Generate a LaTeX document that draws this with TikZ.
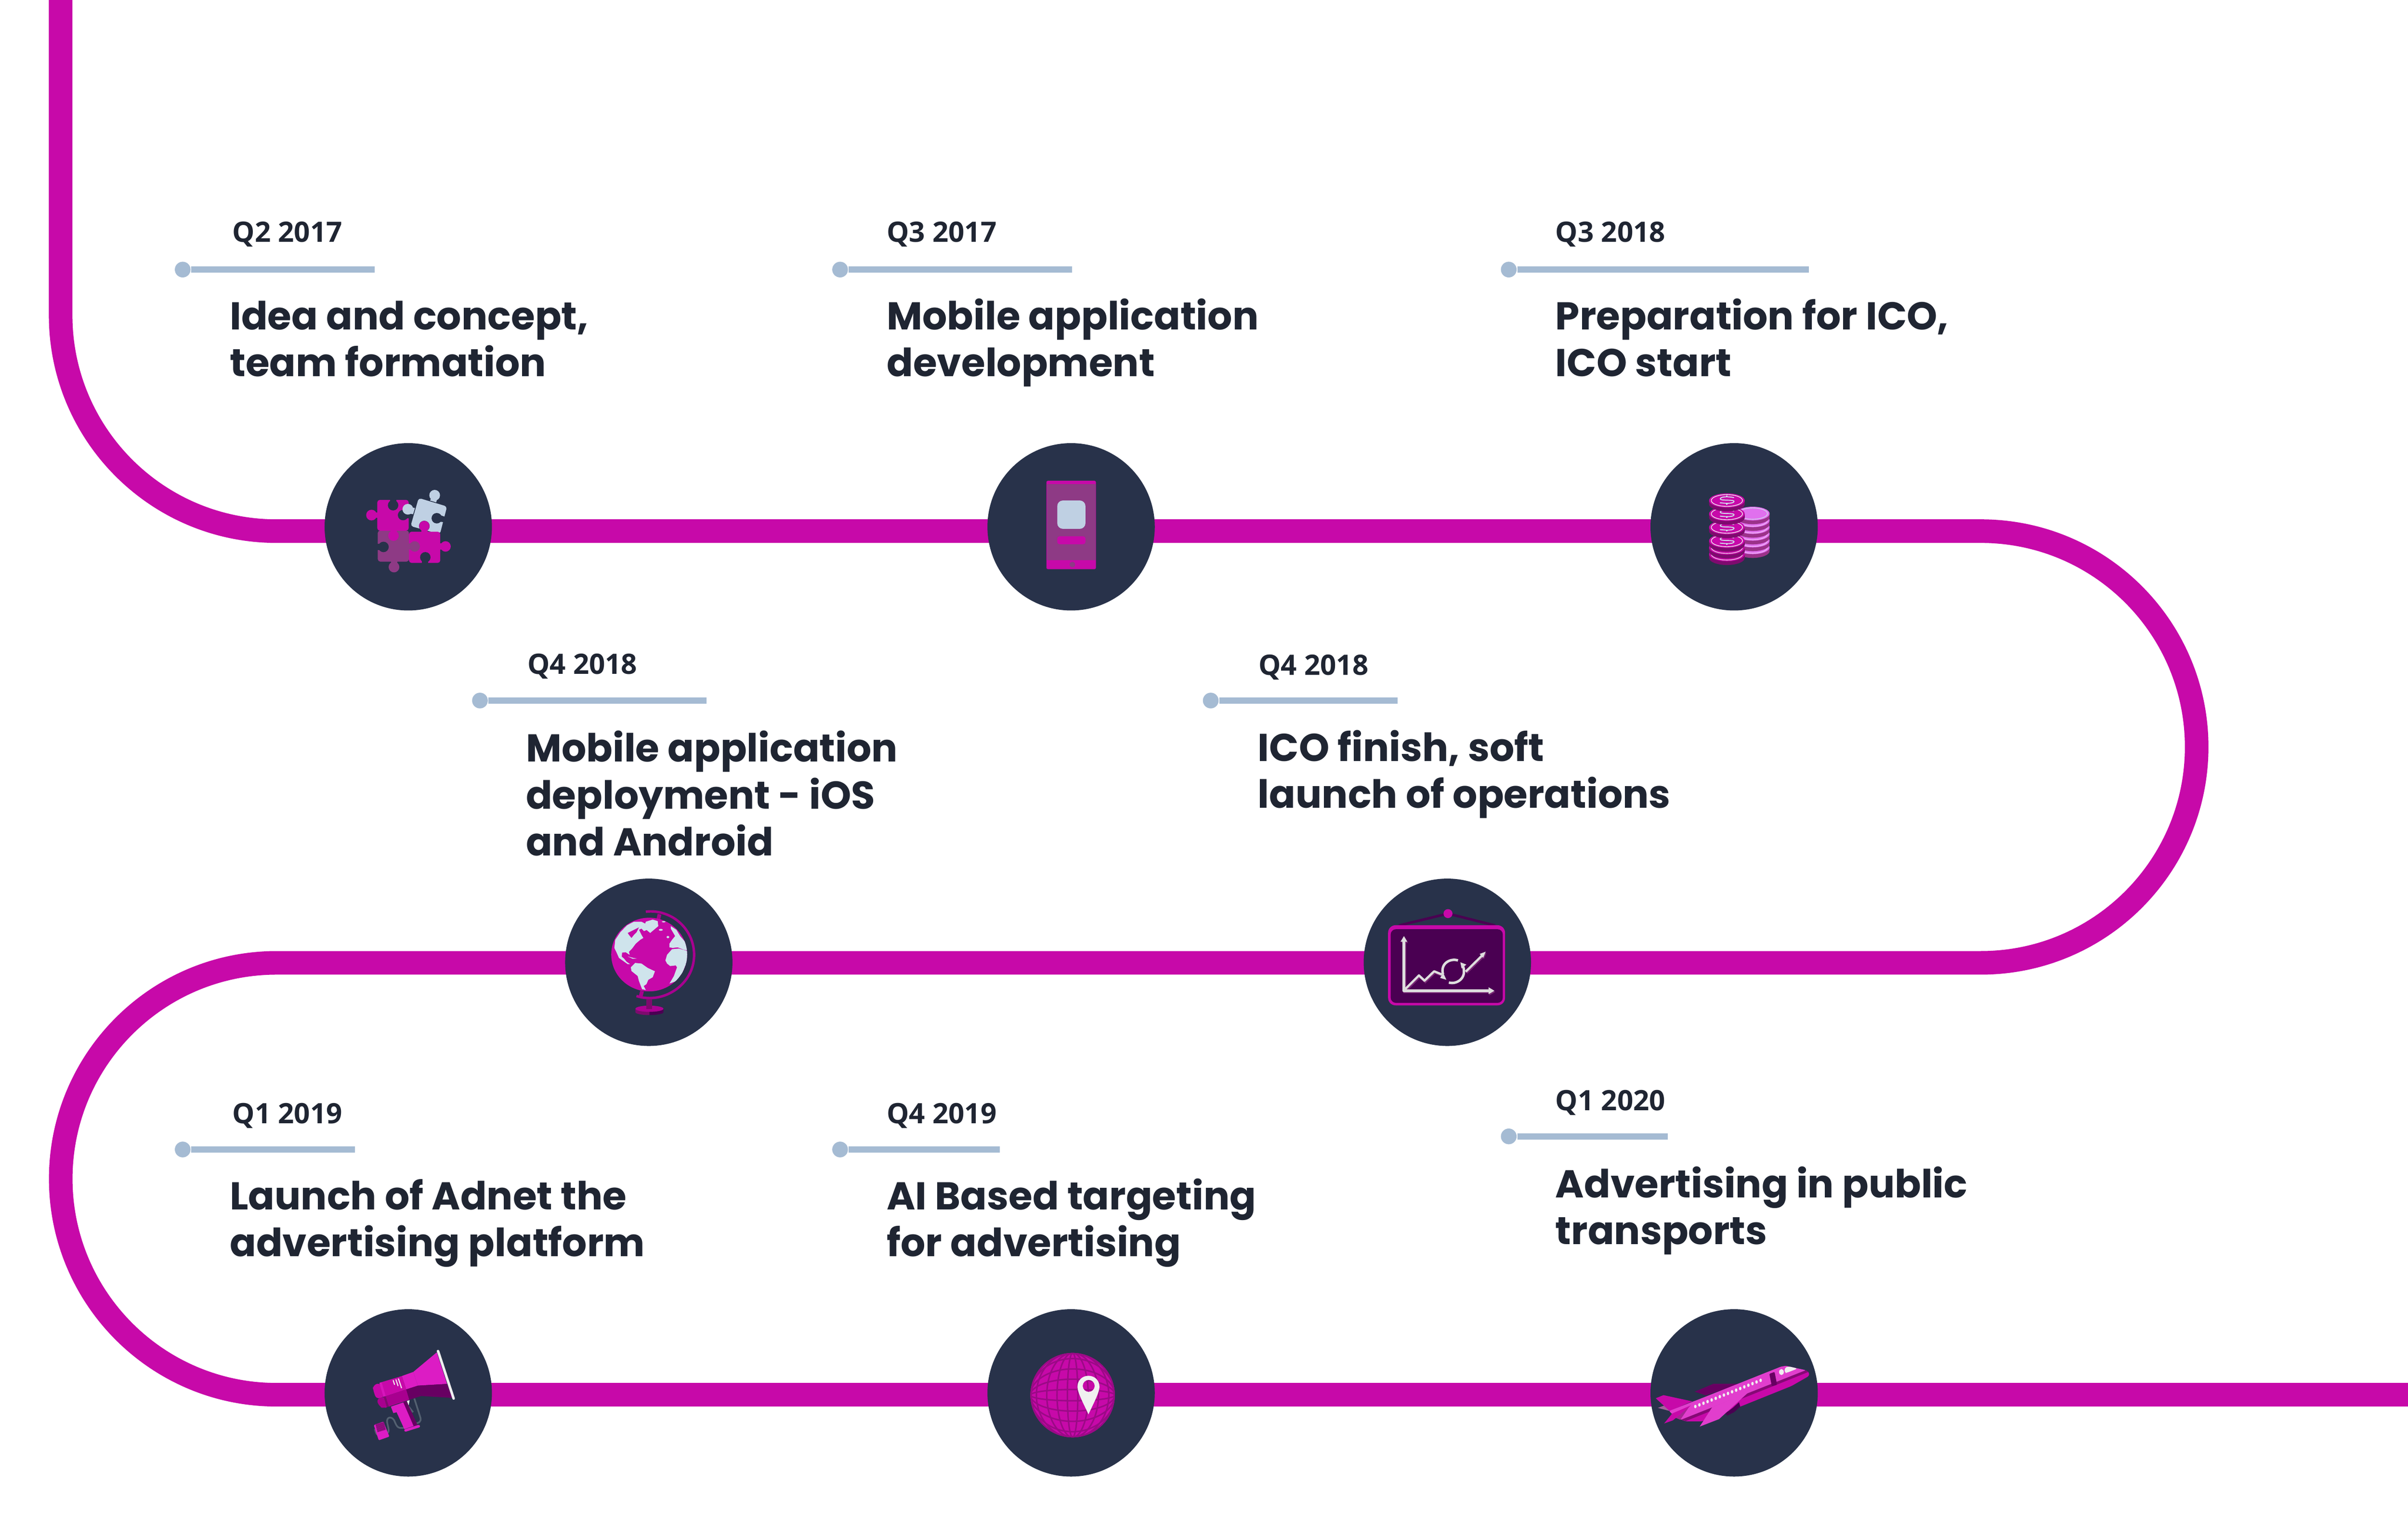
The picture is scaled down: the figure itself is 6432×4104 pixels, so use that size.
\documentclass[tikz,border=0pt]{standalone}
\usepackage{fontspec}
\usetikzlibrary{backgrounds}
\newfontfamily\datef{Open Sans}
\newfontfamily\titlef{Poppins}
\definecolor{navy}{HTML}{28324A}
\definecolor{road}{HTML}{C709A9}
\definecolor{leadc}{HTML}{A5BBD3}
\definecolor{inkc}{HTML}{1F2532}
\definecolor{paleb}{HTML}{BFD0E3}
\definecolor{dimp}{HTML}{8E3A85}
\definecolor{landc}{HTML}{CFE4EC}
\definecolor{bright}{HTML}{DC1CC4}
\definecolor{darkm}{HTML}{7E0B6E}
\definecolor{deepm}{HTML}{680062}
\definecolor{midm}{HTML}{A8008F}
\definecolor{pinkc}{HTML}{E070EE}
\definecolor{sidep}{HTML}{9B3289}
\definecolor{boardc}{HTML}{4A0052}
\definecolor{chalk}{HTML}{DEDEDE}
\definecolor{whitec}{HTML}{F0F0F0}
\definecolor{wirec}{HTML}{536070}
\tikzset{
  x=0.1pt,y=-0.1pt,
  stop/.style={circle,inner sep=0pt,minimum size=44.7pt,fill=navy},
  roadline/.style={draw=road,line width=6.3pt,line join=round},
  leader/.style={draw=leadc,line width=1.7pt},
  dotc/.style={circle,inner sep=0pt,minimum size=4.2pt,fill=leadc},
  datelbl/.style={anchor=base west,inner sep=0pt,text=inkc,font=\datef\bfseries\fontsize{7.5}{9}\selectfont},
  titlelbl/.style={anchor=base west,inner sep=0pt,text=inkc,align=left,font=\titlef\bfseries\fontsize{10.37}{12.5}\selectfont},
  zm/.style 2 args={shift={(#1,#2)},x=0.033333pt,y=-0.033333pt},
}
\newcommand{\coin}[6]{%
  \fill[#5] (#1-#3,#2) -- (#1-#3,#2+30) arc[start angle=180,end angle=0,x radius=#3,y radius=#4] -- (#1+#3,#2) -- cycle;
  \fill[#6] (#1,#2) ellipse[x radius=#3,y radius=#4];
}
\newcommand{\dollar}[2]{%
  \draw[whitec,line width=0.18pt] (#1,#2) ellipse[x radius=125,y radius=47];
  \draw[landc,line width=0.25pt] (#1+57,#2-23) .. controls (#1+2,#2-35) and (#1-53,#2-30) .. (#1-53,#2-13) .. controls (#1-53,#2+5) and (#1+57,#2-10) .. (#1+57,#2+7) .. controls (#1+57,#2+25) and (#1-8,#2+25) .. (#1-56,#2+18);
  \draw[landc,line width=0.35pt] (#1,#2-38) -- (#1,#2-30) (#1,#2+25) -- (#1,#2+33);
}
\begin{document}
\begin{tikzpicture}
\useasboundingbox (0,0) rectangle (6432,4104);
% stops
\node[stop] (c1) at (1090.5,1407) {};
\node[stop] (c2) at (2861,1407) {};
\node[stop] (c3) at (4632,1407) {};
\node[stop] (c4) at (1733,2570) {};
\node[stop] (c5) at (3866,2570) {};
\node[stop] (c6) at (1090.5,3720) {};
\node[stop] (c7) at (2861,3720) {};
\node[stop] (c8) at (4632,3720) {};
\coordinate (rs) at (162,0);
\coordinate (ra) at (162,842);
\coordinate (rb) at (5291,1418.5);
\coordinate (rc) at (739,2571.5);
\coordinate (re) at (6432,3725);
\begin{pgfonlayer}{background}
\draw[roadline] (rs) -- (ra) arc[start angle=180,end angle=90,radius=576.5]
  -- ([yshift=-1.15pt]c1.center) -- ([yshift=-1.15pt]c2.center) -- ([yshift=-1.15pt]c3.center)
  -- (rb) arc[start angle=-90,end angle=90,radius=576.5]
  -- ([yshift=-0.15pt]c5.center) -- ([yshift=-0.15pt]c4.center)
  -- (rc) arc[start angle=270,end angle=90,radius=576.75]
  -- ([yshift=-0.5pt]c6.center) -- ([yshift=-0.5pt]c7.center) -- ([yshift=-0.5pt]c8.center) -- (re);
\end{pgfonlayer}
% leaders
\node[dotc] (d1) at (488,720) {}; \coordinate (e1) at (1001,720); \draw[leader] (d1) -- (e1);
\node[dotc] (d2) at (2244,720) {}; \coordinate (e2) at (2863,720); \draw[leader] (d2) -- (e2);
\node[dotc] (d3) at (4030,720) {}; \coordinate (e3) at (4832,720); \draw[leader] (d3) -- (e3);
\node[dotc] (d4) at (1282,1871) {}; \coordinate (e4) at (1887,1871); \draw[leader] (d4) -- (e4);
\node[dotc] (d5) at (3234,1871) {}; \coordinate (e5) at (3733,1871); \draw[leader] (d5) -- (e5);
\node[dotc] (d6) at (488,3070) {}; \coordinate (e6) at (948,3070); \draw[leader] (d6) -- (e6);
\node[dotc] (d7) at (2244,3070) {}; \coordinate (e7) at (2670,3070); \draw[leader] (d7) -- (e7);
\node[dotc] (d8) at (4030,3035) {}; \coordinate (e8) at (4455,3035); \draw[leader] (d8) -- (e8);
% dates
\node[datelbl] (t1) at (619,647) {Q2 2017};
\node[datelbl] (t2) at (2367,647) {Q3 2017};
\node[datelbl] (t3) at (4153,647) {Q3 2018};
\node[datelbl] (t4) at (1407,1800) {Q4 2018};
\node[datelbl] (t5) at (3360,1803) {Q4 2018};
\node[datelbl] (t6) at (619,3001) {Q1 2019};
\node[datelbl] (t7) at (2367,3001) {Q4 2019};
\node[datelbl] (t8) at (4153,2966) {Q1 2020};
% titles
\node[titlelbl] (m1) at (612,1005) {Idea and concept,\\team formation};
\node[titlelbl] (m2) at (2367,1005) {Mobile application\\development};
\node[titlelbl] (m3) at (4153,1005) {Preparation for ICO,\\ICO start};
\node[titlelbl] (m4) at (1403,2285) {Mobile application\\deployment - iOS\\and Android};
\node[titlelbl] (m5) at (3358,2158) {ICO finish, soft\\launch of operations};
\node[titlelbl] (m6) at (612,3356) {Launch of Adnet the\\advertising platform};
\node[titlelbl] (m7) at (2367,3356) {AI Based targeting\\for advertising};
\node[titlelbl] (m8) at (4153,3324) {Advertising in public\\transports};
% puzzle
\begin{scope}[zm={840}{1160}]
 \fill[paleb,rounded corners=0.7pt] (835,510) -- (1062,578) -- (1005,800) -- (770,735) -- cycle;
 \fill[paleb] (963,488) circle (43);
 \fill[paleb] (945,500) -- (985,510) -- (975,545) -- (925,530) -- cycle;
 \fill[navy] (980,672) circle (42);
 \fill[navy] (1015,650) -- (1060,665) -- (1050,705) -- (1005,700) -- cycle;
 \fill[navy] (880,735) circle (43);
 \fill[road,rounded corners=0.7pt] (757,780) rectangle (1008,1030);
 \fill[road] (880,735) circle (42); \fill[road] (855,760) rectangle (905,790);
 \fill[road] (1050,898) circle (42); \fill[road] (1000,875) rectangle (1030,925);
 \fill[navy] (888,985) circle (42); \fill[navy] (862,1010) rectangle (912,1040);
 \fill[dimp,rounded corners=0.7pt] (507,770) rectangle (757,1020);
 \fill[dimp] (803,898) circle (42); \fill[dimp] (750,875) rectangle (780,925);
 \fill[dimp] (637,1063) circle (43); \fill[dimp] (612,1010) rectangle (662,1040);
 \fill[navy] (553,902) circle (42); \fill[navy] (500,878) rectangle (530,928);
 \fill[road,rounded corners=0.7pt] (503,525) rectangle (755,772);
 \fill[road] (457,647) circle (43); \fill[road] (480,625) rectangle (510,670);
 \fill[road] (633,812) circle (42); \fill[road] (608,765) rectangle (658,790);
 \fill[navy] (630,568) circle (42); \fill[navy] (605,515) rectangle (655,545);
 \fill[navy] (710,647) circle (42); \fill[navy] (735,622) rectangle (762,672);
 \fill[paleb] (748,600) circle (43);
 \fill[paleb] (770,585) -- (805,590) -- (790,640) -- (760,635) -- cycle;
\end{scope}
% phone
\begin{scope}[zm={2620}{1160}]
 \fill[road,rounded corners=0.4pt] (525,372) rectangle (922,1080);
 \fill[dimp] (530,400) rectangle (918,1008);
 \fill[paleb,rounded corners=1.5pt] (612,530) rectangle (838,757);
 \fill[road,rounded corners=0.6pt] (612,817) rectangle (838,880);
 \fill[dimp] (733,1043) circle (22);
\end{scope}
% coins
\begin{scope}[zm={4380}{1160}]
 \foreach \yy in {905,851,797,743,689} {
   \coin{905}{\yy}{135}{55}{sidep}{pinkc}
   \draw[pinkc!40!white,line width=0.15pt] (905,\yy) ellipse[x radius=118,y radius=47];
 }
 \coin{905}{635}{135}{55}{sidep}{pinkc}
 \draw[landc,line width=0.15pt] (905,635) ellipse[x radius=118,y radius=45];
 \foreach \yy in {960,907} {
   \coin{698}{\yy}{143}{57}{darkm}{road}
   \draw[whitec,line width=0.15pt] (698,\yy) ellipse[x radius=125,y radius=47];
 }
 \foreach \yy in {853,745,637,530} {
   \coin{698}{\yy}{143}{57}{darkm}{road}
   \dollar{698}{\yy}
 }
\end{scope}
% globe
\begin{scope}[zm={1480}{2320}]
 \draw[midm,line width=1pt] (845,365) -- (835,405) (705,980) -- (692,1030);
 \draw[midm,line width=0.67pt] (735,345) .. controls (800,335) and (880,350) .. (950,390) .. controls (1060,455) and (1122,570) .. (1122,690) .. controls (1122,810) and (1060,920) .. (950,985) .. controls (860,1040) and (750,1050) .. (660,1020);
 \fill[darkm] (652,1122) -- (652,1150) arc[start angle=180,end angle=90,x radius=112,y radius=23] -- (764,1122) -- cycle;
 \fill[boardc] (876,1122) -- (876,1150) arc[start angle=0,end angle=90,x radius=112,y radius=23] -- (764,1122) -- cycle;
 \fill[midm!80!road] (764,1122) ellipse[x radius=112,y radius=25];
 \fill[darkm] (740,1048) rectangle (785,1125);
 \fill[road] (762,688) ellipse[x radius=304,y radius=295];
 \begin{scope}
  \clip (762,688) ellipse[x radius=304,y radius=295];
  \fill[landc] (583,455) -- (610,440) -- (640,425) -- (700,425) -- (730,440) -- (745,490) -- (720,500) -- (700,480) -- (680,490) -- (700,530) -- (715,555) -- (690,570) -- (655,600) -- (625,640) -- (600,665) -- (605,690) -- (575,670) -- (545,672) -- (542,705) -- (560,720) -- (580,745) -- (610,765) -- (590,765) -- (555,740) -- (520,715) -- (500,670) -- (483,635) -- (490,570) -- (530,510) -- cycle;
  \fill[road] (590,515) -- (640,490) -- (680,470) -- (660,510) -- (640,530) -- (620,555) -- (600,530) -- cycle;
  \fill[landc] (735,425) -- (790,408) -- (830,420) -- (835,460) -- (770,515) -- (740,490) -- (730,440) -- cycle;
  \fill[landc] (615,790) -- (650,755) -- (700,760) -- (750,795) -- (808,822) -- (790,870) -- (755,890) -- (740,925) -- (718,940) -- (735,972) -- (705,965) -- (680,900) -- (670,860) -- (620,820) -- cycle;
  \fill[landc] (892,735) -- (905,690) -- (945,645) -- (1000,640) -- (1070,660) -- (1070,730) -- (1030,830) -- (980,900) -- (925,920) -- (960,860) -- (985,790) -- (975,775) -- (930,780) -- (905,760) -- cycle;
  \fill[landc] (925,600) -- (945,570) -- (970,540) -- (935,480) -- (935,460) -- (980,490) -- (1010,540) -- (1070,610) -- (1070,655) -- (1040,650) -- (990,630) -- (950,635) -- (925,630) -- cycle;
  \fill[landc] (855,490) ellipse[x radius=16,y radius=8];
  \fill[landc] (912,548) ellipse[x radius=11,y radius=9];
  \fill[landc] (878,425) ellipse[x radius=15,y radius=5];
  \fill[landc] (590,703) -- (635,715) -- (665,720) -- (630,722) -- cycle;
 \end{scope}
\end{scope}
% chart
\begin{scope}[zm={3610}{2320}]
 \draw[boardc,line width=0.67pt] (380,455) -- (773,360) -- (1150,455);
 \fill[road] (773,360) circle (36);
 \fill[road,rounded corners=2pt] (293,453) rectangle (1230,1095);
 \fill[boardc,rounded corners=1.4pt] (314,485) rectangle (1212,1075);
 \begin{scope}[shift={(6,10)}]
  \draw[dimp!70!boardc,line width=0.73pt] (420,575) -- (420,978) -- (1100,978);
  \draw[dimp!70!boardc,line width=0.6pt] (430,965) -- (540,855) -- (585,897) -- (662,822) -- (725,848) (915,825) -- (1050,692);
  \fill[dimp!70!boardc] (420,540) -- (447,585) -- (393,585) -- cycle (1145,978) -- (1098,950) -- (1098,1005) -- cycle (1075,665) -- (1027,683) -- (1055,713) -- cycle;
 \end{scope}
 \draw[chalk,line width=0.73pt,line join=round] (420,575) -- (420,978) -- (1100,978);
 \draw[chalk,line width=0.6pt,line join=round] (430,965) -- (540,855) -- (585,897) -- (662,822) -- (725,848) (915,825) -- (1050,692);
 \draw[chalk,line width=0.67pt] (853,735) .. controls (790,715) and (710,760) .. (733,845);
 \draw[chalk,line width=0.67pt] (780,912) .. controls (840,930) and (925,880) .. (895,785);
 \fill[chalk] (420,540) -- (447,585) -- (393,585) -- cycle (1145,978) -- (1098,950) -- (1098,1005) -- cycle (1075,665) -- (1027,683) -- (1055,713) -- cycle (760,890) -- (710,875) -- (735,835) -- cycle (872,750) -- (920,768) -- (882,800) -- cycle;
\end{scope}
% megaphone
\begin{scope}[zm={840}{3470}]
 \draw[wirec,line width=0.45pt] (800,795) -- (848,945) .. controls (860,985) and (830,990) .. (815,995);
 \draw[wirec,line width=0.45pt] (755,860) -- (790,905);
 \draw[wirec,line width=0.45pt] (722,1028) .. controls (670,1040) and (660,1020) .. (645,985) .. controls (630,935) and (575,935) .. (582,985) .. controls (590,1030) and (610,1070) .. (570,1078) .. controls (510,1095) and (495,1095) .. (485,1040);
 \fill[whitec] (740,815) -- (762,808) -- (755,850) -- cycle;
 \fill[bright] (980,425) -- (792,582) -- (828,692) -- (1062,678) -- cycle;
 \fill[deepm] (828,692) -- (1062,678) -- (1105,790) -- (855,775) -- cycle;
 \fill[bright] (700,615) -- (792,582) -- (828,692) -- (735,722) -- cycle;
 \fill[road] (525,668) -- (700,615) -- (735,722) -- (568,778) -- cycle;
 \fill[road,rounded corners=1pt] (525,668) -- (468,690) -- (468,720) -- (495,800) -- (568,778) -- cycle;
 \fill[bright!70!road] (520,670) -- (538,665) -- (570,775) -- (553,782) -- cycle;
 \fill[midm,rounded corners=1pt] (495,800) -- (570,778) -- (595,860) -- (555,875) -- (520,860) -- cycle;
 \fill[midm] (570,778) -- (735,722) -- (760,805) -- (595,860) -- cycle;
 \fill[deepm] (735,722) -- (828,692) -- (855,775) -- (760,805) -- cycle;
 \fill[darkm] (555,782) -- (570,778) -- (595,858) -- (580,865) -- cycle;
 \fill[bright] (612,860) -- (712,826) -- (825,1005) -- (720,1040) -- (658,905) -- (632,912) -- cycle;
 \fill[deepm] (712,826) -- (737,815) -- (825,1005) -- (795,1017) -- cycle;
 \draw[bright,line width=0.7pt,line cap=round] (730,1050) -- (835,1017);
 \draw[whitec,line width=0.27pt] (630,648) -- (642,685) (652,642) -- (670,695) (672,635) -- (698,712);
 \draw[whitec,line width=0.67pt,line cap=round] (990,415) -- (1115,795);
 \fill[bright,rounded corners=0.2pt] (475,1008) -- (552,980) -- (600,1100) -- (515,1130) -- cycle;
 \fill[darkm] (488,1000) -- (555,985) -- (570,1045) -- (505,1065) -- cycle;
 \foreach \k in {0,1,...,8} {
   \draw[bright!60!darkm,line width=0.07pt] ({490+\k*8},{998-\k*2}) -- ({507+\k*8},{1064-\k*2.3});
 }
\end{scope}
% net globe
\begin{scope}[zm={2620}{3470}]
 \fill[road] (735,768) circle (338);
 \begin{scope}
  \clip (735,768) circle (338);
  \foreach \r in {42,125,207,290} {
    \draw[darkm!60!road,line width=0.4pt] (735,768) ellipse[x radius=\r,y radius=338];
    \draw[darkm!60!road,line width=0.4pt] (735,768) ellipse[x radius=338,y radius=\r+3];
  }
 \end{scope}
 \draw[darkm!60!road,line width=0.4pt] (735,768) circle (332);
 \fill[whitec,even odd rule] (862,922) .. controls (830,850) and (774,750) .. (774,700) .. controls (774,650) and (812,613) .. (862,613) .. controls (912,613) and (950,650) .. (950,700) .. controls (950,750) and (894,850) .. (862,922) -- cycle (864,694) circle (48);
\end{scope}
% plane
\begin{scope}[zm={4380}{3470}]
 \fill[dimp!80!white] (145,870) -- (195,852) -- (240,895) -- cycle;
 \fill[deepm] (440,740) -- (590,677) -- (800,677) -- (530,770) -- cycle;
 \fill[road] (128,793) -- (190,768) -- (420,818) -- (240,895) -- cycle;
 \fill[road,rounded corners=0.4pt] (330,965) -- (1340,575) -- (1358,590) -- (1355,615) -- (1215,695) -- (805,860) -- (500,978) -- (370,978) -- cycle;
 \fill[darkm!80!midm] (330,965) -- (1330,568) -- (1352,582) -- (370,975) -- cycle;
 \fill[bright!85!white,rounded corners=0.3pt] (235,895) -- (430,818) -- (465,805) -- (1130,540) -- (1170,533) -- (1330,568) -- (330,965) -- (290,950) -- cycle;
 \fill[whitec,rounded corners=0.6pt] (1160,590) -- (1160,550) -- (1190,537) -- (1265,555) -- (1175,590) -- cycle;
 \fill[whitec] (1135,583) ellipse[x radius=19,y radius=24];
 \fill[deepm,rounded corners=0.2pt] (1038,597) -- (1080,582) -- (1100,685) -- (1058,697) -- cycle;
 \foreach \k in {0,1,...,16} {
   \fill[whitec] ({445+\k*32.7},{859-\k*13.1}) ellipse[x radius=10,y radius=14];
 }
 \fill[dimp!60!road] (290,950) -- (400,855) -- (325,965) -- cycle;
 \fill[road] (195,995) -- (260,915) -- (410,850) -- (290,950) -- (265,970) -- cycle;
 \fill[boardc] (685,915) -- (745,870) -- (795,825) -- (805,860) -- (755,905) -- (700,932) -- cycle;
 \fill[bright!85!white] (480,1020) -- (580,865) -- (865,750) -- (635,960) -- cycle;
\end{scope}
\end{tikzpicture}
\end{document}
